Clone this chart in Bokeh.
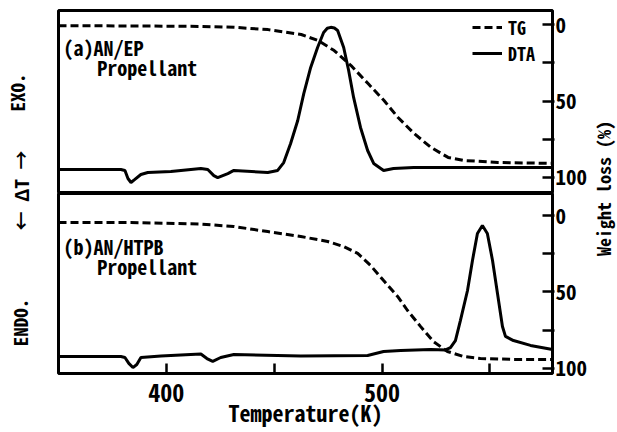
import math
from bokeh.plotting import figure
from bokeh.models import Range1d, LinearAxis, FixedTicker, Legend, LegendItem, Label
from bokeh.layouts import row, column
from bokeh.embed import file_html
from bokeh.resources import INLINE

FONT = "Noto Sans Mono CJK JP, DejaVu Sans Mono"

# ---------------- data ----------------
# (a) AN/EP propellant
tg_a_T = [350.0, 393.0, 416.2, 431.5, 447.2, 462.5, 470.4, 477.8, 485.6, 493.5,
          500.9, 507.4, 514.8, 522.7, 530.6, 538.0, 553.7, 579.0]
tg_a = [0.7, 1.0, 1.2, 1.8, 3.3, 6.5, 10.5, 17.0, 26.8, 38.6,
        49.7, 60.8, 71.2, 80.4, 86.9, 88.9, 90.2, 90.8]

dta_a_T = [350.0, 378.9, 380.8, 382.2, 383.6, 385.4, 388.2, 391.4, 402.1, 416.0,
           419.2, 422.0, 423.8, 428.5, 431.3, 447.0, 451.6, 454.4, 457.6, 460.9,
           463.7, 466.9, 470.1, 472.9, 474.6, 476.2, 477.9, 479.4, 482.2, 484.5,
           486.8, 490.0, 493.3, 496.1, 500.7, 505.3, 514.6, 579.0]
dta_a = [13.1, 13.1, 12.6, 8.2, 6.0, 7.7, 10.4, 11.5, 12.0, 13.7,
         13.1, 9.8, 8.7, 10.9, 12.6, 11.5, 12.6, 16.9, 27.3, 39.9,
         54.6, 68.9, 79.8, 88.0, 90.3, 90.8, 90.4, 89.1, 79.8, 67.2,
         52.5, 36.1, 23.5, 16.4, 12.6, 13.7, 14.2, 14.2]

# (b) AN/HTPB propellant
tg_b_T = [350.0, 383.6, 416.0, 431.3, 447.0, 462.3, 474.8, 482.2, 488.7, 494.7,
          500.7, 507.2, 511.8, 517.8, 523.8, 530.3, 537.7, 545.6, 560.9, 579.0]
tg_b = [4.6, 4.6, 5.6, 7.2, 10.5, 13.7, 17.0, 20.3, 24.8, 32.7,
        42.5, 52.9, 62.1, 72.5, 82.4, 88.9, 92.2, 93.5, 94.1, 94.1]

dta_b_T = [350.0, 378.9, 380.8, 382.6, 384.5, 386.3, 388.2, 397.5, 411.3, 416.0,
           418.8, 421.5, 425.2, 431.3, 462.3, 493.3, 500.7, 508.6, 522.5, 529.4,
           531.7, 534.0, 536.3, 539.6, 541.9, 544.2, 546.5, 548.8, 551.2, 553.5,
           555.8, 557.2, 560.9, 568.8, 579.0]
dta_b = [9.4, 9.4, 8.9, 5.6, 3.3, 5.0, 8.9, 9.7, 10.6, 10.8,
         8.3, 6.7, 8.9, 10.6, 9.7, 10.0, 12.2, 12.8, 13.3, 13.1,
         14.4, 18.3, 29.4, 46.1, 62.8, 77.8, 82.2, 77.8, 62.8, 44.4,
         26.1, 20.6, 18.3, 15.6, 13.3]

wl_ticks = [0, 50, 100]
wl_minor = [25, 75]
t_ticks = [400, 500]
t_minor = [450, 550]

panel_a = ["(a)AN/EP", "Propellant"]
panel_b = ["(b)AN/HTPB", "Propellant"]

# ---------------- layout constants ----------------
H = 428
FW = 494
xr = Range1d(350, 579)

LW = 3
DASH = "8 4"


def panel(frame_h, tg_range, mb_top, mb_bottom):
    p = figure(frame_width=FW, frame_height=frame_h, x_range=xr, y_range=Range1d(0, 100),
               x_axis_location=None, y_axis_location=None, toolbar_location=None,
               output_backend="svg", min_border_left=3, min_border_right=0,
               min_border_top=mb_top, min_border_bottom=mb_bottom,
               outline_line_color="black", outline_line_width=3,
               background_fill_color="white", border_fill_color="white")
    p.extra_y_ranges = {"tg": tg_range}
    ax = LinearAxis(y_range_name="tg",
                    ticker=FixedTicker(ticks=wl_ticks, minor_ticks=wl_minor))
    ax.axis_line_color = None
    ax.major_tick_in = 10
    ax.major_tick_out = 2
    ax.minor_tick_in = 10
    ax.minor_tick_out = 2
    ax.major_tick_line_width = 2.5
    ax.minor_tick_line_width = 2.5
    ax.major_label_standoff = 1
    ax.major_label_text_font = FONT
    ax.major_label_text_font_style = "bold"
    ax.major_label_text_font_size = "21px"
    ax.major_label_text_color = "black"
    p.add_layout(ax, "right")
    return p


top = panel(183, Range1d(110.5, -9.2), 10, 0)
bot = panel(180, Range1d(103.3, -14.4), 0, 0)

xa = LinearAxis(ticker=FixedTicker(ticks=t_ticks, minor_ticks=t_minor))
xa.axis_line_color = None
xa.major_tick_in = 10
xa.major_tick_out = 0
xa.minor_tick_in = 10
xa.minor_tick_out = 0
xa.major_tick_line_width = 2.5
xa.minor_tick_line_width = 2.5
xa.major_label_standoff = 10
xa.major_label_text_font = FONT
xa.major_label_text_font_style = "bold"
xa.major_label_text_font_size = "24px"
xa.major_label_text_color = "black"
xa.axis_label = "Temperature(K)"
xa.axis_label_standoff = -9
xa.axis_label_text_font = FONT
xa.axis_label_text_font_style = "bold"
xa.axis_label_text_font_size = "22px"
xa.axis_label_text_color = "black"
bot.add_layout(xa, "below")

# curves
tg_a_r = top.line(tg_a_T, tg_a, y_range_name="tg", line_color="black", line_width=LW, line_dash=DASH)
dta_a_r = top.line(dta_a_T, dta_a, line_color="black", line_width=LW)
bot.line(tg_b_T, tg_b, y_range_name="tg", line_color="black", line_width=LW, line_dash=DASH)
bot.line(dta_b_T, dta_b, line_color="black", line_width=LW)

legend = Legend(items=[LegendItem(label="TG", renderers=[tg_a_r]),
                       LegendItem(label="DTA", renderers=[dta_a_r])],
                location=(414, 127), orientation="vertical",
                background_fill_alpha=0, border_line_color=None,
                glyph_width=30, glyph_height=26, label_height=26, label_standoff=6,
                spacing=0, padding=0, margin=0,
                label_text_font=FONT, label_text_font_style="bold",
                label_text_font_size="18px", label_text_color="black")
top.add_layout(legend)


def lab(p, x, y, text, size="20px"):
    p.add_layout(Label(x=x, y=y, text=text, text_font=FONT, text_font_style="bold",
                       text_font_size=size, text_color="black",
                       text_align="left", text_baseline="alphabetic"))


lab(top, 352.3, 79.8, panel_a[0])
lab(top, 368.0, 68.9, panel_a[1])
lab(bot, 352.3, 70.5, panel_b[0])
lab(bot, 368.0, 59.4, panel_b[1])

# left annotation strip (y grows downward, in pixels)
LWD = 55
left = figure(width=LWD, height=H, x_range=Range1d(0, LWD), y_range=Range1d(H, 0),
              x_axis_location=None, y_axis_location=None, toolbar_location=None,
              output_backend="svg", min_border=0, outline_line_color=None,
              background_fill_color="white", border_fill_color="white")
for txt, xx, yy in [("EXO.", 16, 92), ("← ΔT →", 20, 190), ("ENDO.", 19, 322)]:
    left.add_layout(Label(x=xx, y=yy, text=txt, angle=math.pi / 2, text_font=FONT,
                          text_font_style="bold", text_font_size="19px", text_color="black",
                          text_align="center", text_baseline="middle"))

# right annotation strip
RWD = 27
right = figure(width=RWD, height=H, x_range=Range1d(0, RWD), y_range=Range1d(H, 0),
               x_axis_location=None, y_axis_location=None, toolbar_location=None,
               output_backend="svg", min_border=0, outline_line_color=None,
               background_fill_color="white", border_fill_color="white")
right.add_layout(Label(x=13.5, y=188, text="Weight loss (%)", angle=math.pi / 2, text_font=FONT,
                       text_font_style="bold", text_font_size="18px", text_color="black",
                       text_align="center", text_baseline="middle"))

for p in (top, bot, left, right):
    p.xgrid.visible = False
    p.ygrid.visible = False

layout = row(left, column(top, bot, spacing=0), right, spacing=0)

open("out.html", "w").write(file_html(layout, INLINE))
